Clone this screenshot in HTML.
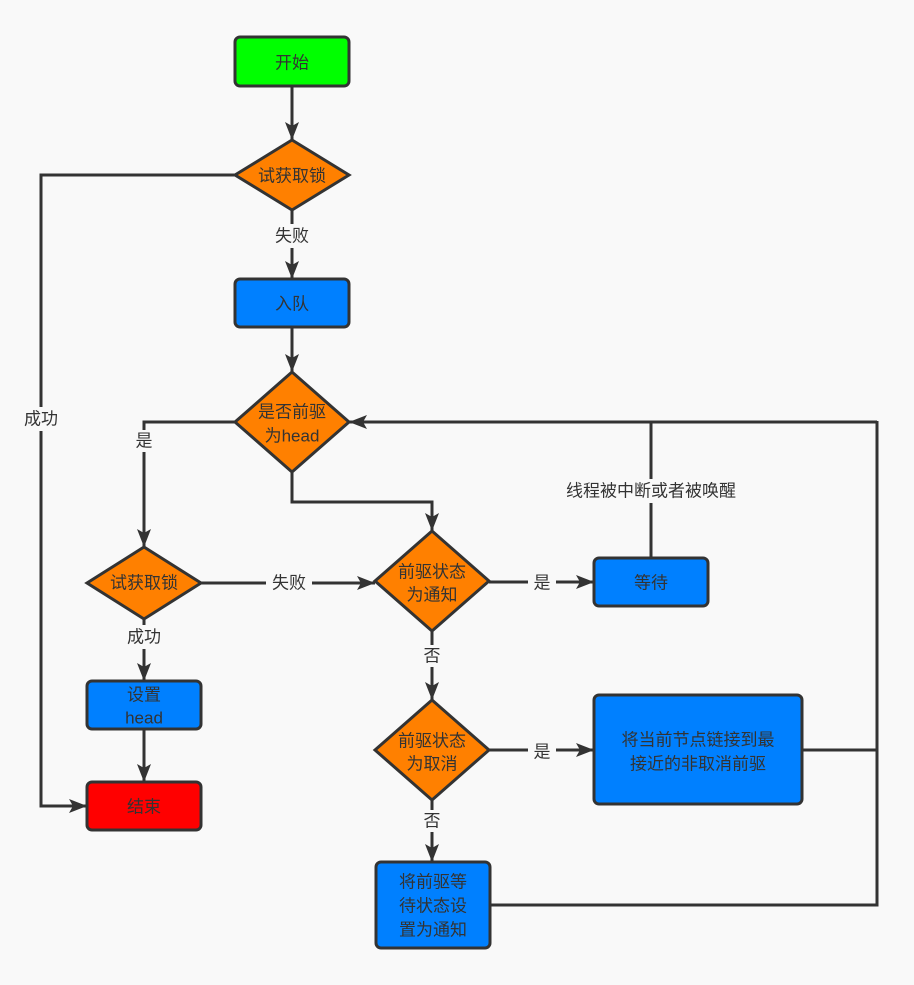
<!DOCTYPE html>
<html><head><meta charset="utf-8"><style>
html,body{margin:0;padding:0;background:#f9f9f9;}
svg{display:block;}
text{font-family:"Liberation Sans","Noto Sans CJK SC",sans-serif;font-size:17px;fill:#333;text-anchor:middle;dominant-baseline:central;}
</style></head><body>
<svg width="914" height="985" viewBox="0 0 914 985">
<defs>
<marker id="a" markerWidth="10" markerHeight="10" refX="9" refY="5" orient="auto" markerUnits="userSpaceOnUse">
<path d="M0,0 L10,5 L0,10 Z" fill="#333"/></marker>
<marker id="b" markerWidth="20" markerHeight="20" refX="18" refY="7" orient="auto" markerUnits="userSpaceOnUse">
<path d="M0,0 L18,7 L0,14 L4,7 Z" fill="#333"/></marker>
</defs>
<rect width="914" height="985" fill="#f9f9f9"/>
<g stroke="#333" stroke-width="3" fill="none">
<line x1="292" y1="86" x2="292" y2="140" marker-end="url(#b)"/>
<line x1="292" y1="210" x2="292" y2="279" marker-end="url(#b)"/>
<line x1="292" y1="327" x2="292" y2="372" marker-end="url(#b)"/>
<polyline points="235,175 41,175 41,806 87,806" marker-end="url(#b)"/>
<polyline points="235,422 144,422 144,547" marker-end="url(#b)"/>
<polyline points="292,472 292,502 432,502 432,531" marker-end="url(#b)"/>
<line x1="201" y1="583" x2="375" y2="583" marker-end="url(#b)"/>
<line x1="144" y1="619" x2="144" y2="681" marker-end="url(#b)"/>
<line x1="144" y1="729" x2="144" y2="782" marker-end="url(#b)"/>
<line x1="489" y1="582" x2="594" y2="582" marker-end="url(#b)"/>
<polyline points="651,558 651,422"/>
<line x1="877" y1="422" x2="349" y2="422" marker-end="url(#b)"/>
<line x1="432" y1="631" x2="432" y2="700" marker-end="url(#b)"/>
<line x1="489" y1="750" x2="594" y2="750" marker-end="url(#b)"/>
<line x1="432" y1="800" x2="432" y2="862" marker-end="url(#b)"/>
<polyline points="802,750 877,750"/>
<polyline points="490,905 877,905 877,421"/>
</g>
<g stroke="#333" stroke-width="3">
<rect x="235" y="37" width="114" height="49" rx="5" fill="#00ff00"/>
<polygon points="292,140 349,175 292,210 235,175" fill="#ff8000"/>
<rect x="235" y="279" width="114" height="48" rx="5" fill="#0080ff"/>
<polygon points="292,372 349,422 292,472 235,422" fill="#ff8000"/>
<polygon points="144,547 201,583 144,619 87,583" fill="#ff8000"/>
<polygon points="432,531 489,581 432,631 375,581" fill="#ff8000"/>
<rect x="594" y="558" width="114" height="48" rx="5" fill="#0080ff"/>
<rect x="87" y="681" width="114" height="48" rx="5" fill="#0080ff"/>
<rect x="87" y="782" width="114" height="48" rx="5" fill="#ff0000"/>
<polygon points="432,700 489,750 432,800 375,750" fill="#ff8000"/>
<rect x="594" y="695" width="208" height="109" rx="5" fill="#0080ff"/>
<rect x="376" y="862" width="114" height="86" rx="5" fill="#0080ff"/>
</g>
<g fill="#f9f9f9">
<rect x="270" y="224" width="44" height="24"/>
<rect x="22" y="407" width="40" height="24"/>
<rect x="130" y="430" width="28" height="22"/>
<rect x="266" y="571" width="46" height="24"/>
<rect x="528" y="571" width="28" height="24"/>
<rect x="552" y="479" width="200" height="24"/>
<rect x="121" y="625" width="46" height="24"/>
<rect x="420" y="645" width="26" height="22"/>
<rect x="528" y="740" width="28" height="24"/>
<rect x="420" y="810" width="26" height="22"/>
</g>
<text x="292" y="63">开始</text>
<text x="292" y="176">试获取锁</text>
<text x="292" y="236">失败</text>
<text x="292" y="304">入队</text>
<text x="292" y="412">是否前驱</text>
<text x="292" y="436">为head</text>
<text x="41" y="419">成功</text>
<text x="144" y="441">是</text>
<text x="144" y="583">试获取锁</text>
<text x="289" y="583">失败</text>
<text x="432" y="572">前驱状态</text>
<text x="432" y="595">为通知</text>
<text x="542" y="583">是</text>
<text x="651" y="583">等待</text>
<text x="651" y="491">线程被中断或者被唤醒</text>
<text x="144" y="637">成功</text>
<text x="144" y="695">设置</text>
<text x="144" y="718">head</text>
<text x="144" y="807">结束</text>
<text x="432" y="656">否</text>
<text x="432" y="741">前驱状态</text>
<text x="432" y="764">为取消</text>
<text x="542" y="752">是</text>
<text x="698" y="740">将当前节点链接到最</text>
<text x="698" y="764">接近的非取消前驱</text>
<text x="432" y="821">否</text>
<text x="433" y="882">将前驱等</text>
<text x="433" y="906">待状态设</text>
<text x="433" y="930">置为通知</text>
</svg>
</body></html>
